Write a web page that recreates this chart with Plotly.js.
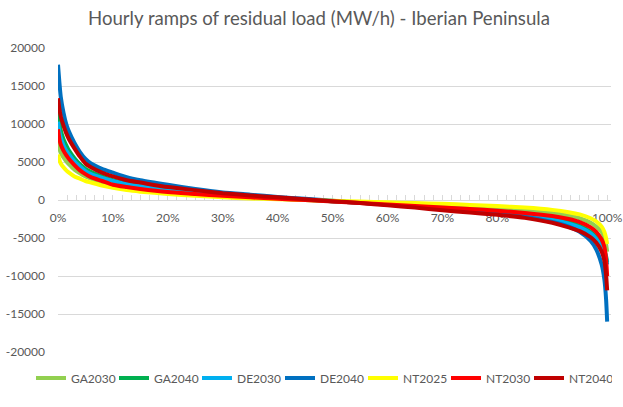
<!DOCTYPE html>
<html>
<head>
<meta charset="utf-8">
<script src="https://cdn.plot.ly/plotly-3.0.1.min.js"></script>
<style>html,body{margin:0;padding:0;background:#fff;}#chart{width:623px;height:407px;}</style>
</head>
<body>
<div id="chart"></div>
<script>
// Percentile of hours (x, %)
const pct = [0, 0.25, 0.5, 1, 1.5, 2, 3, 4, 5, 6, 8, 10, 12.5, 15, 20, 25, 30, 35, 40, 45, 50, 55, 60, 65, 70, 75, 80, 85, 90, 93, 95, 97, 98, 99, 99.5, 99.8, 100];

// Hourly ramps (MW/h), sorted descending
const GA2030 = [7600, 6800, 6200, 5600, 5100, 4700, 4000, 3500, 3100, 2800, 2300, 1900, 1600, 1350, 1000, 750, 500, 300, 150, 0, -150, -300, -450, -600, -750, -900, -1100, -1350, -1700, -2050, -2400, -3000, -3500, -4200, -5000, -5800, -6800];
const GA2040 = [11800, 10300, 9200, 8000, 7200, 6500, 5500, 4700, 4100, 3700, 3100, 2600, 2200, 1900, 1400, 1000, 700, 450, 250, 50, -150, -350, -550, -800, -1050, -1300, -1550, -1900, -2400, -2900, -3400, -4200, -4900, -5800, -6600, -7400, -8200];
const DE2030 = [10300, 9000, 8200, 7200, 6500, 6000, 5100, 4400, 3800, 3400, 2900, 2500, 2100, 1800, 1350, 1000, 700, 450, 250, 50, -150, -350, -600, -850, -1100, -1350, -1600, -2000, -2600, -3100, -3600, -4400, -5100, -6000, -6800, -7600, -8500];
const DE2040 = [17800, 15500, 13600, 11500, 10000, 9000, 7500, 6300, 5400, 4800, 4100, 3600, 3000, 2600, 2000, 1450, 1000, 700, 400, 150, -100, -350, -600, -900, -1200, -1500, -1800, -2200, -2900, -3500, -4200, -5400, -6500, -8500, -10500, -13000, -16000];
const NT2025 = [6000, 5300, 4800, 4300, 3900, 3600, 3100, 2800, 2500, 2300, 1900, 1600, 1300, 1100, 800, 550, 350, 200, 100, 0, -100, -200, -300, -400, -500, -650, -800, -1000, -1300, -1600, -1900, -2400, -2800, -3500, -4200, -5000, -5800];
const NT2030 = [9300, 8000, 7300, 6500, 5900, 5400, 4600, 3900, 3400, 3000, 2500, 2000, 1700, 1450, 1050, 800, 550, 350, 150, 0, -200, -400, -600, -800, -1000, -1200, -1400, -1700, -2100, -2500, -2900, -3600, -4200, -5200, -6200, -7800, -10000];
const NT2040 = [13400, 12000, 11000, 9800, 8800, 8000, 6800, 5700, 4800, 4300, 3600, 3100, 2600, 2300, 1700, 1300, 900, 600, 350, 100, -150, -400, -700, -1000, -1350, -1650, -1950, -2350, -3000, -3600, -4100, -4900, -5600, -6800, -8000, -9800, -11900];

const seriesNames = ["GA2030", "GA2040", "DE2030", "DE2040", "NT2025", "NT2030", "NT2040"];
const seriesData = [GA2030, GA2040, DE2030, DE2040, NT2025, NT2030, NT2040];
const seriesColors = ["#92D050", "#00B050", "#00B0F0", "#0070C0", "#FFFF00", "#FF0000", "#C00000"];

const xTickVals = [0, 10, 20, 30, 40, 50, 60, 70, 80, 90, 100];
const yTickVals = [20000, 15000, 10000, 5000, 0, -5000, -10000, -15000, -20000];

const FONT = "Lato, 'Open Sans', sans-serif";
const GREY = "#595959";
const W = 623, H = 407;
const PL = 58, PR = 611, PT = 48, PB = 352;   // plot-area pixel box

const traces = seriesNames.map((name, i) => ({
  type: "scatter",
  mode: "lines",
  name: name,
  x: pct,
  y: seriesData[i],
  line: {color: seriesColors[i], width: 4, shape: "spline", smoothing: 0.6}
}));

const yDom = [(H - PB) / H, (H - PT) / H];

const layout = {
  width: W,
  height: H,
  margin: {l: 0, r: 0, t: 0, b: 0, autoexpand: false},
  paper_bgcolor: "#ffffff",
  plot_bgcolor: "#ffffff",
  font: {family: FONT, color: GREY, size: 12},
  title: {
    text: "Hourly ramps of residual load (MW/h) - Iberian Peninsula",
    font: {family: FONT, size: 18.6, color: GREY},
    x: 0.512, xanchor: "center", y: 0.955, yanchor: "middle"
  },
  xaxis: {
    domain: [PL / W, PR / W],
    range: [0, 100.7],
    anchor: "free",
    position: (yDom[0] + yDom[1]) / 2,
    tickvals: xTickVals,
    ticktext: xTickVals.map(v => v + "%"),
    showgrid: false,
    zeroline: false,
    showline: true,
    linecolor: "#d9d9d9",
    linewidth: 1,
    ticks: "inside",
    ticklen: 5,
    tickcolor: "#d9d9d9",
    minor: {dtick: 10 / 6, ticks: "inside", ticklen: 5, tickcolor: "#d9d9d9", showgrid: false},
    ticklabelstandoff: 7,
    tickfont: {family: FONT, size: 12, color: GREY},
    layer: "below traces",
    fixedrange: true
  },
  yaxis: {
    domain: yDom,
    range: [-20000, 20000],
    tickvals: yTickVals,
    ticktext: yTickVals.map(v => String(v)),
    showgrid: true,
    gridcolor: "#d9d9d9",
    gridwidth: 1,
    zeroline: false,
    showline: false,
    ticks: "",
    ticklabelstandoff: 12,
    tickfont: {family: FONT, size: 12, color: GREY},
    layer: "below traces",
    fixedrange: true
  },
  showlegend: true,
  legend: {
    orientation: "h",
    x: 31 / W, xanchor: "left",
    y: (H - 378) / H, yanchor: "middle",
    entrywidth: 83 / W, entrywidthmode: "fraction",
    itemwidth: 30,
    font: {family: FONT, size: 12, color: GREY},
    bgcolor: "rgba(0,0,0,0)",
    traceorder: "normal"
  }
};

Plotly.newPlot("chart", traces, layout, {displayModeBar: false, staticPlot: true});
</script>
</body>
</html>
